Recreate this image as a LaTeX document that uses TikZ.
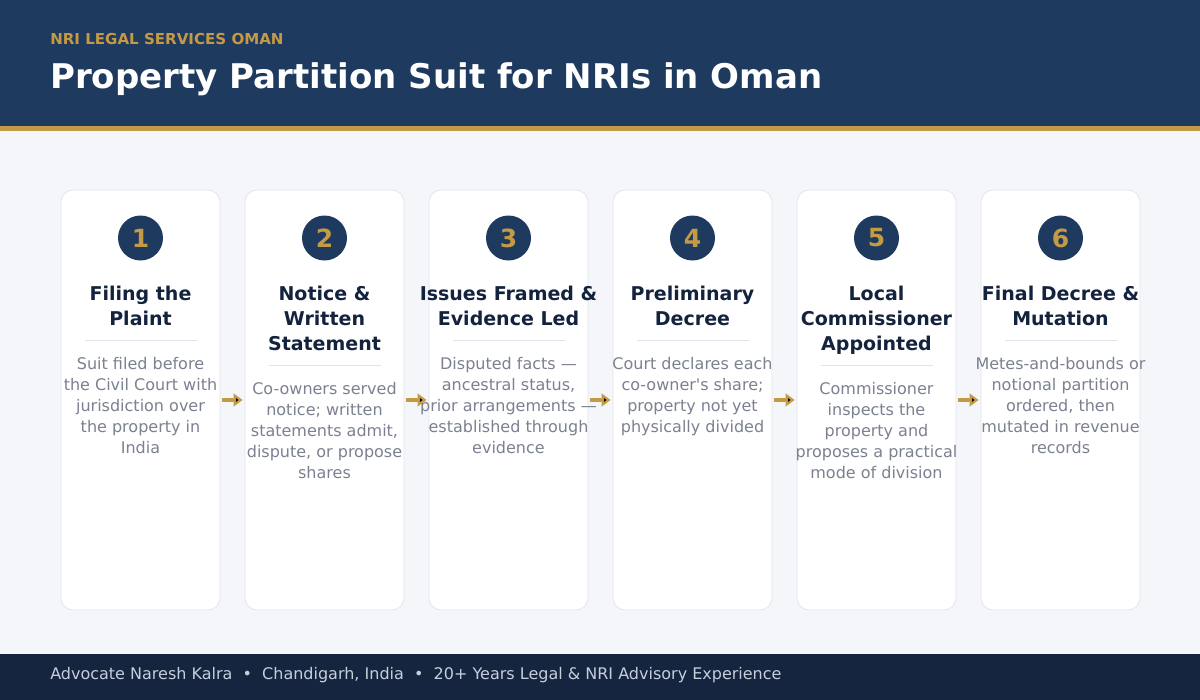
\documentclass[tikz,border=0pt]{standalone}
\usepackage{fontspec}
\setmainfont{DejaVu Sans}[Ligatures=TeXOff]
\usetikzlibrary{arrows.meta}

\definecolor{navy}{HTML}{1F3A5F}
\definecolor{deepnavy}{HTML}{15243F}
\definecolor{gold}{HTML}{C49A45}
\definecolor{paper}{HTML}{F5F6FA}
\definecolor{cardline}{HTML}{E1E4EC}
\definecolor{inkdark}{HTML}{14233D}
\definecolor{inkgray}{HTML}{7B8190}
\definecolor{footink}{HTML}{C5CEDB}

\tikzset{
  card/.style={draw=cardline, fill=white, line width=0.6pt, rounded corners=9pt,
    minimum width=119.25pt, minimum height=315pt, inner sep=0pt},
  badge/.style={circle, fill=navy, text=gold, minimum size=33.75pt, inner sep=0pt,
    font=\fontsize{18.75}{20}\selectfont\bfseries},
  steptitle/.style={anchor=north, align=center, inner sep=0pt, text=inkdark,
    font=\fontsize{14.25}{18.75}\selectfont\bfseries},
  stepdesc/.style={anchor=north, align=center, inner sep=0pt, text=inkgray,
    font=\fontsize{12}{15.75}\selectfont},
  rule/.style={draw=cardline, line width=0.75pt},
  flow/.style={draw=gold, line width=2.6pt, -{Triangle[length=6.75pt,width=9.5pt]},
    shorten <=1.5pt, shorten >=1.5pt}
}

\begin{document}
\begin{tikzpicture}[x=0.75pt, y=-0.75pt]

      \useasboundingbox (0,0) rectangle (1200,700);

      % bands
      \fill[paper] (0,0) rectangle (1200,700);
      \fill[navy] (0,0) rectangle (1200,126);
      \fill[gold] (0,126) rectangle (1200,131);
      \fill[deepnavy] (0,654) rectangle (1200,700);

      \node[anchor=base west, inner sep=0pt, text=gold,
        font=\fontsize{11.3}{12}\selectfont\bfseries] (kicker) at (50,44) {NRI LEGAL SERVICES OMAN};
      \node[anchor=base west, inner sep=0pt, text=white,
        font=\fontsize{25.5}{28}\selectfont\bfseries] (headline) at (50,88) {Property Partition Suit for NRIs in Oman};

      \begin{scope}[every node/.style={card}]
        \node (c1) at (140.5,400) {};
        \node (c2) at (324.5,400) {};
        \node (c3) at (508.5,400) {};
        \node (c4) at (692.5,400) {};
        \node (c5) at (876.5,400) {};
        \node (c6) at (1060.5,400) {};
      \end{scope}

      \begin{scope}[every node/.style={badge}]
        \node (n1) at (140.5,238) {1};
        \node (n2) at (324.5,238) {2};
        \node (n3) at (508.5,238) {3};
        \node (n4) at (692.5,238) {4};
        \node (n5) at (876.5,238) {5};
        \node (n6) at (1060.5,238) {6};
      \end{scope}

      \begin{scope}[every node/.style={steptitle}]
        \node (t1) at (140.5,285.5) {Filing the\\Plaint};
        \node (t2) at (324.5,285.5) {Notice \&\\Written\\Statement};
        \node (t3) at (508.5,285.5) {Issues Framed \&\\Evidence Led};
        \node (t4) at (692.5,285.5) {Preliminary\\Decree};
        \node (t5) at (876.5,285.5) {Local\\Commissioner\\Appointed};
        \node (t6) at (1060.5,285.5) {Final Decree \&\\Mutation};
      \end{scope}

      \draw[rule] (84.5,340) -- (196.5,340);
      \draw[rule] (268.5,365) -- (380.5,365);
      \draw[rule] (452.5,340) -- (564.5,340);
      \draw[rule] (636.5,340) -- (748.5,340);
      \draw[rule] (820.5,365) -- (932.5,365);
      \draw[rule] (1004.5,340) -- (1116.5,340);

      \begin{scope}[every node/.style={stepdesc}]
        \node (d1) at (140.5,357) {Suit filed before\\the Civil Court with\\jurisdiction over\\the property in\\India};
        \node (d2) at (324.5,382) {Co-owners served\\notice; written\\statements admit,\\dispute, or propose\\shares};
        \node (d3) at (508.5,357) {Disputed facts —\\ancestral status,\\prior arrangements —\\established through\\evidence};
        \node (d4) at (692.5,357) {Court declares each\\co-owner's share;\\property not yet\\physically divided};
        \node (d5) at (876.5,382) {Commissioner\\inspects the\\property and\\proposes a practical\\mode of division};
        \node (d6) at (1060.5,357) {Metes-and-bounds or\\notional partition\\ordered, then\\mutated in revenue\\records};
      \end{scope}

      \path[flow] (c1) edge (c2);
      \path[flow] (c2) edge (c3);
      \path[flow] (c3) edge (c4);
      \path[flow] (c4) edge (c5);
      \path[flow] (c5) edge (c6);

      \node[anchor=base west, inner sep=0pt, text=footink,
        font=\fontsize{12}{13}\selectfont] (credits) at (50,679)
        {Advocate Naresh Kalra \ • \ Chandigarh, India \ • \ 20+ Years Legal \& NRI Advisory Experience};

    \end{tikzpicture}
\end{document}
